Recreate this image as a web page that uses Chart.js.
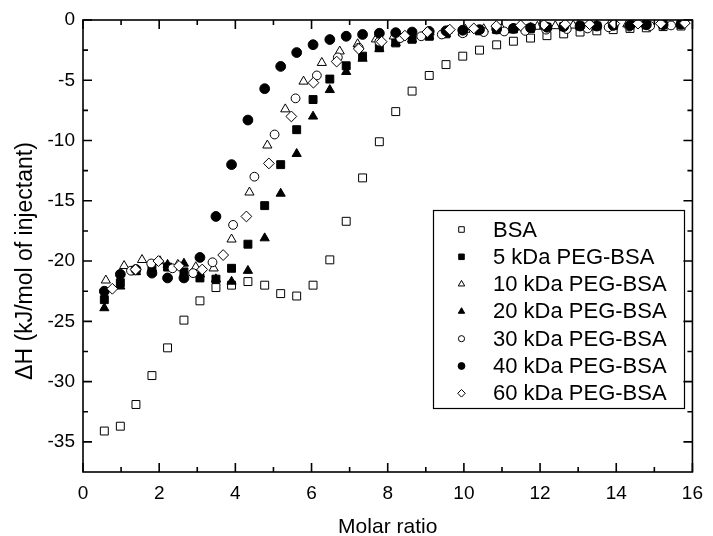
<!DOCTYPE html>
<html>
<head>
<meta charset="utf-8">
<script src="https://cdn.jsdelivr.net/npm/chart.js@4.4.1/dist/chart.umd.min.js"></script>
<style>
    html, body { margin: 0; padding: 0; background: #fff; }
</style>
</head>
<body>
<canvas id="chartITC" width="713" height="536"></canvas>
<script>
// molar ratio grids (each sample was titrated a little differently)
var xStd = [0.56, 0.98, 1.39, 1.81, 2.22, 2.65, 3.07, 3.49, 3.90, 4.33, 4.77, 5.19, 5.61, 6.04, 6.48, 6.91, 7.34, 7.78,
    8.21, 8.64, 9.09, 9.53, 9.97, 10.41, 10.86, 11.30, 11.75, 12.18, 12.62, 13.05, 13.49, 13.92, 14.36, 14.79, 15.23, 15.70];
var x10 = [0.60, 1.08, 1.55, 2.02, 2.49, 2.96, 3.43, 3.90, 4.37, 4.84, 5.31, 5.79, 6.27, 6.74, 7.21, 7.69, 8.16,
    8.63, 9.10, 9.57, 10.04, 10.52, 10.99, 11.46, 11.93, 12.40, 12.87, 13.34, 13.82, 14.29, 14.76, 15.23, 15.70];
var x30 = [1.26, 1.79, 2.35, 2.89, 3.40, 3.94, 4.50, 5.03, 5.58, 6.14, 6.69, 7.24, 7.78, 8.33, 8.88, 9.42, 9.97,
    10.52, 11.06, 11.61, 12.16, 12.70, 13.25, 13.80, 14.34, 14.89, 15.44];
var x60 = [0.77, 1.38, 1.98, 2.52, 3.13, 3.68, 4.29, 4.88, 5.47, 6.05, 6.66, 7.24, 7.84, 8.45, 9.04, 9.63, 10.26,
    10.85, 11.49, 12.10, 12.66, 13.30, 13.95, 14.57, 15.17, 15.80];

// dH values, kJ/mol of injectant
var hBSA = [-34.1, -33.7, -31.9, -29.5, -27.2, -24.9, -23.3, -22.2, -22.0, -21.7, -22.0, -22.7, -22.9, -22.0, -19.9, -16.7,
    -13.1, -10.1, -7.6, -5.9, -4.6, -3.7, -3.0, -2.5, -2.06, -1.76, -1.5, -1.3, -1.15, -1.0, -0.9, -0.8, -0.7, -0.65, -0.55, -0.5];
var h5 = [-23.2, -21.8, -20.8, -20.6, -20.5, -20.9, -21.4, -21.5, -20.6, -18.6, -15.4, -12.0, -9.1, -6.6, -4.9, -3.8,
    -3.0, -2.3, -1.9, -1.6, -1.35, -1.15, -1.0, -0.9, -0.8, -0.75, -0.7, -0.6, -0.55, -0.5, -0.5, -0.45, -0.4, -0.4, -0.35, -0.35];
var h10 = [-21.6, -20.4, -19.9, -20.0, -20.3, -20.5, -20.6, -18.2, -14.3, -10.4, -7.4, -5.1, -3.55, -2.6, -2.0, -1.6,
    -1.35, -1.15, -1.0, -0.9, -0.8, -0.75, -0.7, -0.6, -0.55, -0.5, -0.45, -0.4, -0.4, -0.35, -0.35, -0.3, -0.3];
var h20 = [-23.9, -22.1, -20.9, -20.6, -20.3, -20.2, -21.1, -21.5, -21.7, -20.8, -18.1, -14.4, -11.1, -8.0, -5.8, -4.3,
    -3.2, -2.4, -1.9, -1.6, -1.35, -1.15, -1.0, -0.9, -0.8, -0.7, -0.65, -0.6, -0.55, -0.5, -0.45, -0.4, -0.4, -0.35, -0.35, -0.3];
var h30 = [-20.8, -20.2, -20.6, -21.0, -20.1, -17.0, -13.0, -9.5, -6.5, -4.6, -3.1, -2.3, -1.8, -1.5, -1.35, -1.2,
    -1.1, -1.0, -0.95, -0.9, -0.8, -0.75, -0.7, -0.6, -0.55, -0.5, -0.45];
var h40 = [-22.5, -21.1, -20.7, -21.0, -21.4, -21.4, -19.7, -16.3, -12.0, -8.3, -5.7, -3.85, -2.7, -2.05, -1.62, -1.35,
    -1.2, -1.1, -1.05, -1.0, -0.95, -0.9, -0.85, -0.8, -0.75, -0.7, -0.65, -0.6, -0.55, -0.5, -0.5, -0.45, -0.45, -0.4, -0.4, -0.35];
var h60 = [-22.3, -20.7, -20.0, -20.4, -20.7, -19.5, -16.3, -11.9, -8.0, -5.2, -3.45, -2.4, -1.8, -1.3, -1.0, -0.8,
    -0.7, -0.5, -0.45, -0.4, -0.35, -0.35, -0.3, -0.3, -0.3, -0.25];

var seriesLabels = ['BSA', '5 kDa PEG-BSA', '10 kDa PEG-BSA', '20 kDa PEG-BSA', '30 kDa PEG-BSA', '40 kDa PEG-BSA', '60 kDa PEG-BSA'];
var seriesX = [xStd, xStd, x10, xStd, x30, xStd, x60];
var seriesY = [hBSA, h5, h10, h20, h30, h40, h60];

var xTickValues = [0, 2, 4, 6, 8, 10, 12, 14, 16];
var yTickValues = [0, -5, -10, -15, -20, -25, -30, -35];

var FONT = "'Liberation Sans', Arial, sans-serif";

var markStyle = [
    { pointStyle: 'rect', radius: 5.6, fill: '#fff' },
    { pointStyle: 'rect', radius: 5.6, fill: '#000' },
    { pointStyle: 'triangle', radius: 5.3, fill: '#fff' },
    { pointStyle: 'triangle', radius: 5.3, fill: '#000' },
    { pointStyle: 'circle', radius: 4.4, fill: '#fff' },
    { pointStyle: 'circle', radius: 4.9, fill: '#000' },
    { pointStyle: 'rectRot', radius: 5.4, fill: '#fff' }
];

// box + inward ticks on all four sides
const frameTicks = {
    id: 'frameTicks',
    afterDatasetsDraw: function (chart) {
        const { ctx, chartArea: a, scales: { x, y } } = chart;
        ctx.save();
        ctx.strokeStyle = '#000';
        ctx.lineWidth = 1.6;
        ctx.strokeRect(a.left, a.top, a.right - a.left, a.bottom - a.top);
        ctx.beginPath();
        for (let v = 0; v <= 16; v += 1) {
            let len = (v % 2 == 0) ? 9 : 5;
            let px = x.getPixelForValue(v);
            ctx.moveTo(px, a.bottom); ctx.lineTo(px, a.bottom - len);
            ctx.moveTo(px, a.top); ctx.lineTo(px, a.top + len);
        }
        for (let v = 0; v > y.min; v -= 2.5) {
            let len = (v % 5 == 0) ? 9 : 5;
            let py = y.getPixelForValue(v);
            ctx.moveTo(a.left, py); ctx.lineTo(a.left + len, py);
            ctx.moveTo(a.right, py); ctx.lineTo(a.right - len, py);
        }
        ctx.stroke();

        // axis titles
        ctx.fillStyle = '#000';
        ctx.font = '21px ' + FONT;
        ctx.textAlign = 'center';
        ctx.textBaseline = 'alphabetic';
        ctx.fillText('Molar ratio', (a.left + a.right) / 2, 533);
        ctx.font = '23px ' + FONT;
        ctx.translate(32, 261);
        ctx.rotate(-Math.PI / 2);
        ctx.fillText('\u0394H (kJ/mol of injectant)', 0, 0);
        ctx.restore();
    }
};

const boxLegend = {
    id: 'boxLegend',
    afterDraw: function (chart) {
        const { ctx } = chart;
        ctx.save();
        ctx.strokeStyle = '#000';
        ctx.lineWidth = 1.2;
        ctx.strokeRect(433.5, 210.5, 251, 198);
        ctx.font = '22px ' + FONT;
        ctx.textAlign = 'left';
        ctx.textBaseline = 'middle';
        for (let i = 0; i < seriesLabels.length; i++) {
            let yy = 229.5 + i * 27.3;
            ctx.fillStyle = markStyle[i].fill;
            ctx.strokeStyle = '#000';
            ctx.lineWidth = 1;
            Chart.helpers.drawPoint(ctx, {
                pointStyle: markStyle[i].pointStyle,
                radius: markStyle[i].radius * 0.7,
                rotation: 0,
                borderWidth: 1
            }, 461.5, yy);
            ctx.fillStyle = '#000';
            ctx.fillText(seriesLabels[i], 493, yy + 1);
        }
        ctx.restore();
    }
};

var datasets = [];
for (let i = 0; i < seriesLabels.length; i++) {
    let pts = [];
    for (let k = 0; k < seriesY[i].length; k++) {
        pts.push({ x: seriesX[i][k], y: seriesY[i][k] });
    }
    datasets.push({
        label: seriesLabels[i],
        data: pts,
        showLine: false,
        order: seriesLabels.length - i,
        pointStyle: markStyle[i].pointStyle,
        pointRadius: markStyle[i].radius,
        pointBackgroundColor: markStyle[i].fill,
        pointBorderColor: '#000',
        pointBorderWidth: 1
    });
}

var ctxITC = document.getElementById('chartITC').getContext('2d');
var itcChart = new Chart(ctxITC, {
    type: 'scatter',
    data: { datasets: datasets },
    plugins: [frameTicks, boxLegend],
    options: {
        responsive: false,
        animation: false,
        layout: { padding: { top: 20, right: 11, left: 0, bottom: 0 } },
        plugins: {
            legend: { display: false },
            tooltip: { enabled: false }
        },
        scales: {
            x: {
                type: 'linear',
                min: 0,
                max: 16,
                afterFit: function (scale) { scale.height = 64; },
                afterBuildTicks: function (scale) {
                    scale.ticks = xTickValues.map(v => ({ value: v }));
                },
                ticks: { padding: 10, color: '#000', font: { size: 19, family: FONT }, maxRotation: 0 },
                grid: { display: false, drawTicks: false },
                border: { display: false }
            },
            y: {
                type: 'linear',
                min: -37.5,
                max: 0,
                afterFit: function (scale) { scale.width = 83; },
                afterBuildTicks: function (scale) {
                    scale.ticks = yTickValues.map(v => ({ value: v }));
                },
                ticks: { padding: 8, color: '#000', font: { size: 19, family: FONT } },
                grid: { display: false, drawTicks: false },
                border: { display: false }
            }
        }
    }
});
</script>
</body>
</html>
